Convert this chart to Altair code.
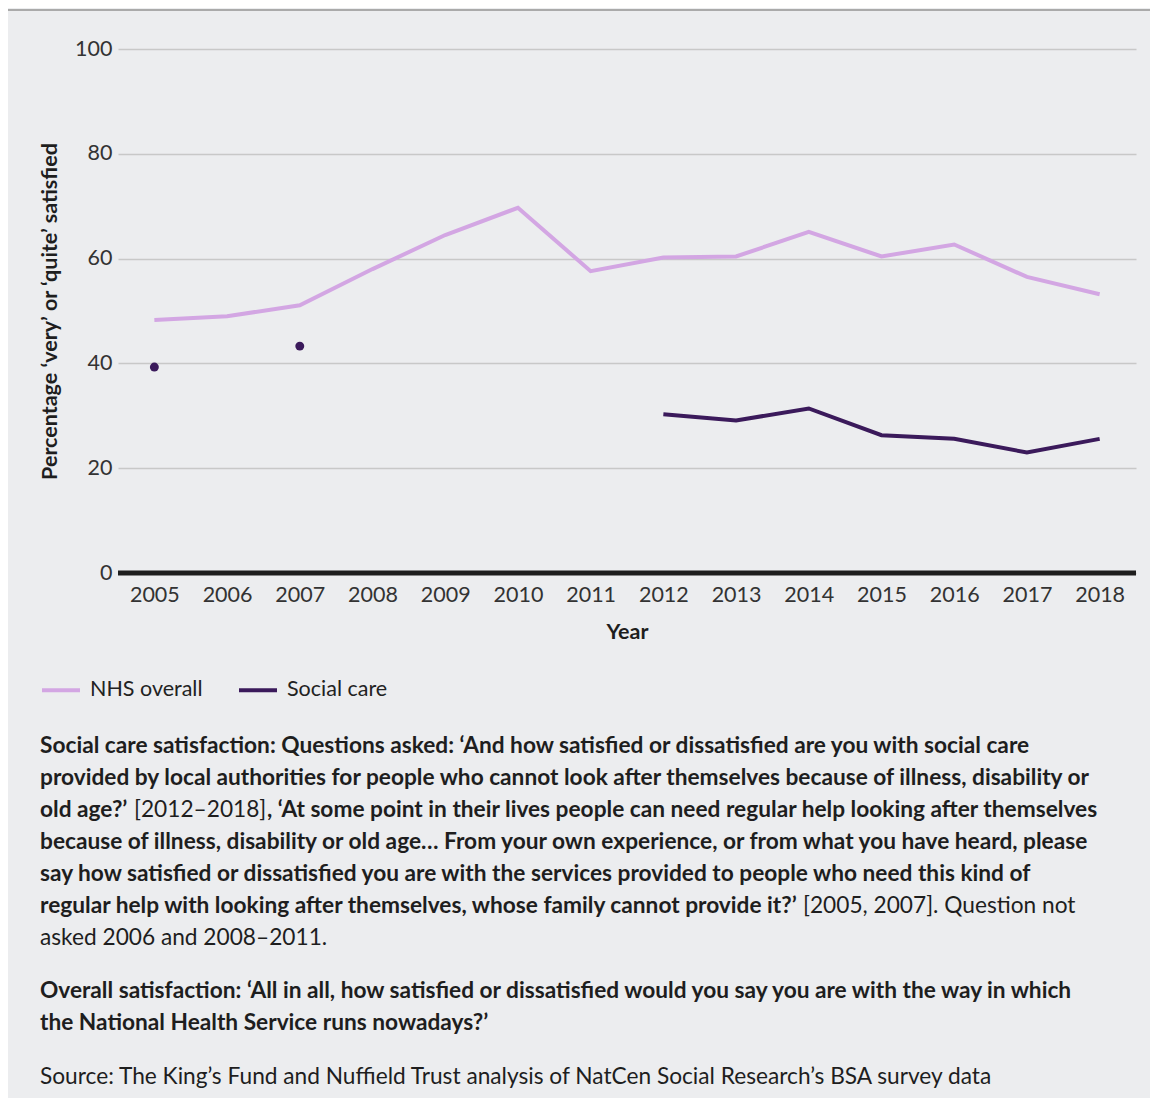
import altair as alt
import pandas as pd

years = [str(y) for y in range(2005, 2019)]
nhs_overall = [48.3, 49.0, 51.1, 58.0, 64.5, 69.7, 57.6, 60.2, 60.4, 65.1, 60.4, 62.7, 56.5, 53.2]
social_care = [39.3, None, 43.3, None, None, None, None, 30.3, 29.1, 31.4, 26.3, 25.6, 23.0, 25.6]
series_names = ["NHS overall", "Social care"]
series_colors = ["#D3A6E3", "#3B1A5B"]
y_ticks = [0, 20, 40, 60, 80, 100]

rows = []
for i, yr in enumerate(years):
    rows.append({"year": yr, "series": series_names[0], "value": nhs_overall[i]})
    if social_care[i] is not None:
        rows.append({"year": yr, "series": series_names[1], "value": social_care[i]})
df = pd.DataFrame(rows)

FONT = "Lato"
BG = "#ECEDEF"
TXT = "#1E1E1E"
TICK = 21.5
TITLE = 21.5
CAP = 22.7

x_enc = alt.X("year:O", scale=alt.Scale(type="point", padding=0.5),
              axis=alt.Axis(title="Year", labelAngle=0, labelFont=FONT, labelFontSize=TICK,
                            labelColor="#333333", labelPadding=11, domain=False, ticks=False,
                            grid=False, titleFont=FONT, titleFontSize=TITLE, titleFontWeight="bold",
                            titleColor=TXT, titlePadding=16))
y_enc = alt.Y("value:Q", scale=alt.Scale(domain=[0, 100], nice=False),
              axis=alt.Axis(values=y_ticks, title="Percentage ‘very’ or ‘quite’ satisfied",
                            labelFont=FONT, labelFontSize=TICK, labelColor="#333333", labelPadding=6,
                            domain=False, ticks=False, gridColor="#C8C8C8", gridWidth=1.5,
                            titleFont=FONT, titleFontSize=TITLE, titleFontWeight="bold",
                            titleColor=TXT, titlePadding=13))

base = alt.Chart(df)

nhs_line = base.transform_filter(alt.datum.series == series_names[0]).mark_line(
    strokeWidth=4, strokeJoin="miter").encode(
    x=x_enc, y=y_enc,
    color=alt.Color("series:N", scale=alt.Scale(domain=series_names, range=series_colors),
                    legend=alt.Legend(title=None, orient="none", legendX=-78, legendY=620,
                                      direction="horizontal", symbolType="stroke",
                                      symbolStrokeWidth=4, symbolSize=1444, labelFont=FONT,
                                      labelFontSize=TICK, labelColor="#222222", labelOffset=8,
                                      columnPadding=28)))

social_line = base.transform_filter(
    (alt.datum.series == series_names[1]) & (alt.datum.year >= "2012")).mark_line(
    strokeWidth=4, strokeJoin="miter").encode(
    x="year:O", y="value:Q",
    color=alt.Color("series:N", scale=alt.Scale(domain=series_names, range=series_colors)))

social_points = base.transform_filter(
    (alt.datum.series == series_names[1]) & (alt.datum.year < "2012")).mark_circle(
    size=80, opacity=1, color=series_colors[1]).encode(x="year:O", y="value:Q")

zero_rule = alt.Chart(pd.DataFrame({"v": [0]})).mark_rule(color="#1E1E1E", strokeWidth=5).encode(
    y=alt.Y("v:Q"))

one = pd.DataFrame({"a": [0]})


def txt(s, x, y, bold=True, size=CAP):
    return alt.Chart(one).mark_text(
        text=s, align="left", baseline="middle", font=FONT, fontSize=size,
        fontWeight="bold" if bold else "normal", color=TXT).encode(
        x=alt.value(x), y=alt.value(y))


def px(page_x):
    return page_x - 118


def py(page_y):
    return page_y - 49


captions = [
    ("Social care satisfaction: Questions asked: ‘And how satisfied or dissatisfied are you with social care", 40, 746, True),
    ("provided by local authorities for people who cannot look after themselves because of illness, disability or", 40, 778, True),
    ("old age?’", 40, 810, True),
    ("[2012–2018]", 134, 810, False),
    (", ‘At some point in their lives people can need regular help looking after themselves", 267, 810, True),
    ("because of illness, disability or old age… From your own experience, or from what you have heard, please", 40, 842, True),
    ("say how satisfied or dissatisfied you are with the services provided to people who need this kind of", 40, 874, True),
    ("regular help with looking after themselves, whose family cannot provide it?’", 40, 906, True),
    ("[2005, 2007]. Question not", 803, 906, False),
    ("asked 2006 and 2008–2011.", 40, 938, False),
    ("Overall satisfaction: ‘All in all, how satisfied or dissatisfied would you say you are with the way in which", 40, 991, True),
    ("the National Health Service runs nowadays?’", 40, 1023, True),
    ("Source: The King’s Fund and Nuffield Trust analysis of NatCen Social Research’s BSA survey data", 40, 1077, False),
]

text_layers = [txt(s, px(x), py(y), b) for (s, x, y, b) in captions]

top_rule = alt.Chart(one).mark_rule(color="#AAAAAA", strokeWidth=2).encode(
    x=alt.value(px(5)), x2=alt.value(px(1158)), y=alt.value(py(10)), y2=alt.value(py(10)))

chart = alt.layer(
    nhs_line, social_line, social_points, zero_rule, top_rule, *text_layers
).properties(
    width=1018, height=524,
    padding={"left": 110, "top": 41, "right": 14, "bottom": 525},
    autosize=alt.AutoSizeParams(type="none"),
    background=BG,
).configure_view(stroke=None)

chart.save("out.html", embed_options={"renderer": "svg", "actions": False})
